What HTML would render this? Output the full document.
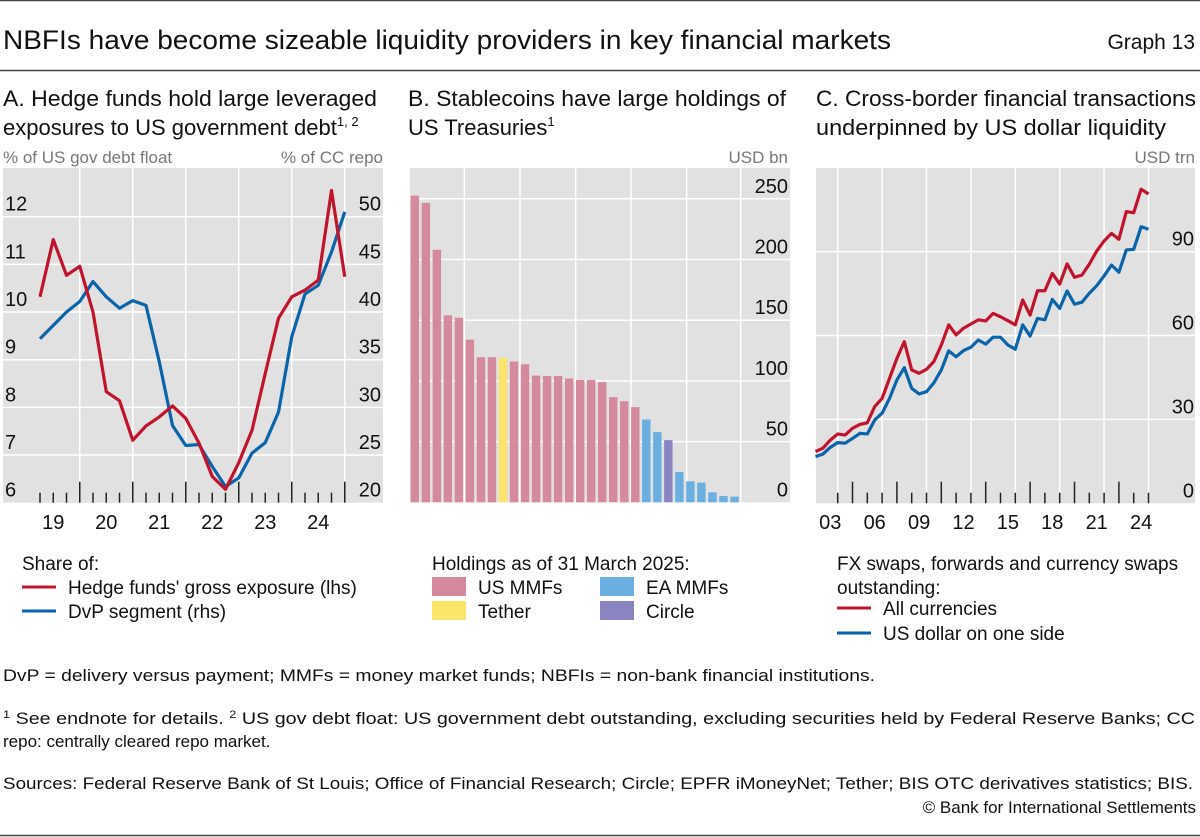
<!DOCTYPE html>
<html><head><meta charset="utf-8"><style>
html,body{margin:0;padding:0;background:#fff;}
svg{display:block;font-family:"Liberation Sans",sans-serif;}
</style></head><body>
<svg id="c" width="1200" height="837" xmlns="http://www.w3.org/2000/svg">
<line x1="0" y1="0.5" x2="1200" y2="0.5" stroke="#444" stroke-width="1.5"/>
<text x="3" y="49" font-size="27" fill="#111" textLength="888" lengthAdjust="spacingAndGlyphs">NBFIs have become sizeable liquidity providers in key financial markets</text>
<text x="1195" y="49" font-size="21" fill="#111" text-anchor="end">Graph 13</text>
<line x1="0" y1="70.5" x2="1200" y2="70.5" stroke="#444" stroke-width="1.5"/>

<g font-size="22" fill="#111">
<text x="3" y="106" textLength="374" lengthAdjust="spacingAndGlyphs">A. Hedge funds hold large leveraged</text>
<text x="3" y="135">exposures to US government debt<tspan font-size="13" dy="-9">1, 2</tspan></text>
<text x="408" y="106" textLength="378" lengthAdjust="spacingAndGlyphs">B. Stablecoins have large holdings of</text>
<text x="408" y="135">US Treasuries<tspan font-size="13" dy="-9">1</tspan></text>
<text x="816" y="106" textLength="380" lengthAdjust="spacingAndGlyphs">C. Cross-border financial transactions</text>
<text x="816" y="135" textLength="350" lengthAdjust="spacingAndGlyphs">underpinned by US dollar liquidity</text>
</g>
<g font-size="17" fill="#777">
<text x="3" y="163">% of US gov debt float</text>
<text x="383" y="163" text-anchor="end">% of CC repo</text>
<text x="788" y="163" text-anchor="end">USD bn</text>
<text x="1195" y="163" text-anchor="end">USD trn</text>
</g>
<g id="pa"></g><g id="pb"></g><g id="pc"></g>

<!-- legends -->
<g font-size="19" fill="#111">
<text x="22" y="570">Share of:</text>
<line x1="22" y1="587" x2="56" y2="587" stroke="#c0142c" stroke-width="3"/>
<text x="68" y="594">Hedge funds' gross exposure (lhs)</text>
<line x1="22" y1="611" x2="56" y2="611" stroke="#0a64aa" stroke-width="3"/>
<text x="68" y="618">DvP segment (rhs)</text>

<text x="432" y="570">Holdings as of 31 March 2025:</text>
<rect x="432" y="577" width="34" height="19" fill="#d48a9c"/>
<text x="478" y="594">US MMFs</text>
<rect x="600" y="577" width="34" height="19" fill="#6aafe0"/>
<text x="646" y="594">EA MMFs</text>
<rect x="432" y="601" width="34" height="19" fill="#fbe46a"/>
<text x="478" y="618">Tether</text>
<rect x="600" y="601" width="34" height="19" fill="#8a84c0"/>
<text x="646" y="618">Circle</text>

<text x="837" y="570">FX swaps, forwards and currency swaps</text>
<text x="837" y="594">outstanding:</text>
<line x1="837" y1="608" x2="871" y2="608" stroke="#c0142c" stroke-width="3"/>
<text x="883" y="615">All currencies</text>
<line x1="837" y1="633" x2="871" y2="633" stroke="#0a64aa" stroke-width="3"/>
<text x="883" y="640">US dollar on one side</text>
</g>

<g font-size="17" fill="#111">
<text x="3" y="681" textLength="872" lengthAdjust="spacingAndGlyphs">DvP = delivery versus payment; MMFs = money market funds; NBFIs = non-bank financial institutions.</text>
<text x="3" y="724" textLength="1192" lengthAdjust="spacingAndGlyphs"><tspan font-size="11" dy="-6">1</tspan><tspan dy="6">  See endnote for details.    </tspan><tspan font-size="11" dy="-6">2</tspan><tspan dy="6">  US gov debt float: US government debt outstanding, excluding securities held by Federal Reserve Banks; CC</tspan></text>
<text x="3" y="747">repo: centrally cleared repo market.</text>
<text x="3" y="789" textLength="1190" lengthAdjust="spacingAndGlyphs">Sources: Federal Reserve Bank of St Louis; Office of Financial Research; Circle; EPFR iMoneyNet; Tether; BIS OTC derivatives statistics; BIS.</text>
<text x="1196" y="813" text-anchor="end">© Bank for International Settlements</text>
</g>
<line x1="0" y1="835.5" x2="1200" y2="835.5" stroke="#444" stroke-width="1.5"/>
</svg>
<script>
// Panel A data (quarterly, 2019Q1 .. 2024Q4)
const aHedge = [10.32,11.52,10.77,10.96,10.0,8.33,8.14,7.31,7.61,7.80,8.03,7.77,7.25,6.55,6.28,6.84,7.52,8.71,9.87,10.32,10.46,10.67,12.55,10.74];
const aDvp = [37.2,38.6,40.0,41.1,43.2,41.6,40.4,41.2,40.7,34.8,28.1,26.0,26.1,23.8,21.7,22.6,25.2,26.3,29.5,37.4,41.9,42.8,46.3,50.5];
const aYears = ["19","20","21","22","23","24"];
const aLeftTicks = [6,7,8,9,10,11,12];
const aRightTicks = [20,25,30,35,40,45,50];
// Panel B data (USD bn)
const bValues = [252.6,246.6,208,154,152,134,119.5,119.5,119,116,113.7,104.4,104,104,102,100.8,100.8,99,86.6,83.3,78.4,68.2,57.8,51.2,25,17.3,16.2,8.2,5.2,4.7];
const bTypes = ["us","us","us","us","us","us","us","us","tether","us","us","us","us","us","us","us","us","us","us","us","us","ea","ea","circle","ea","ea","ea","ea","ea","ea"];
const bTicks = [0,50,100,150,200,250];
// Panel C data (semi-annual, H2 2002 .. H2 2024, USD trn)
const cAll = [18.5,19.7,22.6,24.8,24.4,26.8,28.2,28.8,34.6,37.5,44.7,51.8,57.8,47.7,46.5,47.9,50.7,56.6,63.8,60.2,62.6,64.1,65.6,65.2,67.9,66.7,65.3,63.8,72.7,67.3,76.0,76.0,82.2,78.4,85.6,80.8,81.6,85.5,90.2,93.8,96.5,94.4,104.3,103.9,112.3,110.6];
const cUsd = [16.7,17.6,20.0,21.7,21.5,23.2,25.0,24.8,29.8,32.2,37.5,44.1,48.5,41.1,39.1,39.9,43.1,47.7,54.5,52.4,54.6,55.8,58.4,56.9,59.4,59.4,56.6,55.1,63.8,59.8,66.1,65.6,72.9,69.7,75.9,71.2,71.9,75.1,77.8,81.3,85.2,82.6,90.6,90.8,98.9,98.0];
const cYears = ["03","06","09","12","15","18","21","24"];
const cTicks = [0,30,60,90];

const NS="http://www.w3.org/2000/svg";
function mk(parent,tag,attrs){const e=document.createElementNS(NS,tag);for(const k in attrs)e.setAttribute(k,attrs[k]);parent.appendChild(e);return e;}
const RED="#c0142c", BLUE="#0a64aa", GRID="#fff", BG="#e1e1e1";

// ---------- Panel A ----------
(function(){
  const g=document.getElementById('pa');
  const L=3,R=383,T=168,B=502.7;
  const bg=mk(g,'rect',{x:L,y:T,width:R-L,height:B-T,fill:BG});
  
  
  const yl=v=>B-(v-6)/6*(B-216.7);
  const yr=v=>B-(v-20)/30*(B-216.7);
  const yearStart=26.75, yw=53;
  const xq=i=>40+i*13.25;
  for(let k=1;k<=6;k++){const x=yearStart+k*yw;const l=mk(g,'line',{x1:x,y1:T,x2:x,y2:B,stroke:GRID,'stroke-width':1.5});
    
    }
  aLeftTicks.forEach((v,i)=>{const y=yl(v);
    if(i>0){const l=mk(g,'line',{x1:L,y1:y,x2:R,y2:y,stroke:GRID,'stroke-width':1.5});
      
      }
    const t=mk(g,'text',{x:5,y:y-6,'font-size':20,fill:'#111'});t.textContent=v;
    
    });
  aRightTicks.forEach(v=>{const y=yr(v);const t=mk(g,'text',{x:381,y:y-6,'font-size':20,fill:'#111','text-anchor':'end'});t.textContent=v;
    
    });
  for(let i=0;i<24;i++){const x=xq(i);const major=(i%4===3);
    const l=mk(g,'line',{x1:x,y1:major?481.7:492.7,x2:x,y2:B,stroke:'#222','stroke-width':1.5});
    
    }
  aYears.forEach((y,i)=>{const t=mk(g,'text',{x:yearStart+yw*(i+0.5),y:529,'font-size':20,fill:'#111','text-anchor':'middle'});t.textContent=y;
    
    });
  const p1=mk(g,'polyline',{points:aDvp.map((v,i)=>xq(i)+','+yr(v)).join(' '),fill:'none',stroke:BLUE,'stroke-width':3.2,'stroke-linejoin':'round'});
  
  
  const p2=mk(g,'polyline',{points:aHedge.map((v,i)=>xq(i)+','+yl(v)).join(' '),fill:'none',stroke:RED,'stroke-width':3.2,'stroke-linejoin':'round'});
  
  
})();

// ---------- Panel B ----------
(function(){
  const g=document.getElementById('pb');
  const L=410,R=790,T=168,B=502.3;
  const bg=mk(g,'rect',{x:L,y:T,width:R-L,height:B-T,fill:BG});
  
  
  const y=v=>B-v/50*60.7;
  [464.3,520,575.7,631,686.7,740.7].forEach(x=>{const l=mk(g,'line',{x1:x,y1:T,x2:x,y2:B,stroke:GRID,'stroke-width':1.5});
    
    });
  bTicks.forEach(v=>{const yy=y(v);
    if(v>0){const l=mk(g,'line',{x1:L,y1:yy,x2:R,y2:yy,stroke:GRID,'stroke-width':1.5});
      
      }
    const t=mk(g,'text',{x:788,y:yy-6,'font-size':20,fill:'#111','text-anchor':'end'});t.textContent=v;
    
    });
  const col={us:"#d48a9c",tether:"#fbe46a",ea:"#6aafe0",circle:"#8a84c0"};
  const step=(740.7-410)/bValues.length;
  bValues.forEach((v,i)=>{const x=410+i*step+0.6;
    const r=mk(g,'rect',{x:x,y:y(v),width:step-2.6,height:B-y(v),fill:col[bTypes[i]]});
    
    });
})();

// ---------- Panel C ----------
(function(){
  const g=document.getElementById('pc');
  const L=816,R=1195,T=168,B=503.3;
  const bg=mk(g,'rect',{x:L,y:T,width:R-L,height:B-T,fill:BG});
  
  
  const yw=14.8, y2003=822.9;
  const xt=t=>y2003+(t-2003)*yw;
  const y=v=>B-v/30*83.9;
  cYears.forEach((lab,i)=>{const x=xt(2004+3*i);
    const l=mk(g,'line',{x1:x,y1:T,x2:x,y2:B,stroke:GRID,'stroke-width':1.5});
    
    
    const t=mk(g,'text',{x:xt(2003+3*i)+yw/2,y:529,'font-size':20,fill:'#111','text-anchor':'middle'});t.textContent=lab;
    
    });
  cTicks.forEach(v=>{const yy=y(v);
    if(v>0){const l=mk(g,'line',{x1:L,y1:yy,x2:R,y2:yy,stroke:GRID,'stroke-width':1.5});
      
      }
    const t=mk(g,'text',{x:1194,y:yy-6,'font-size':20,fill:'#111','text-anchor':'end'});t.textContent=v;
    
    });
  for(let yr=2003;yr<=2024;yr++){const x=xt(yr+1);const major=((yr+1)%3===1);
    const l=mk(g,'line',{x1:x,y1:major?481.7:492.7,x2:x,y2:B,stroke:'#222','stroke-width':1.5});
    
    }
  const xp=i=>xt(2002.5+i*0.5);
  const p1=mk(g,'polyline',{points:cUsd.map((v,i)=>xp(i)+','+y(v)).join(' '),fill:'none',stroke:BLUE,'stroke-width':3.2,'stroke-linejoin':'round'});
  
  
  const p2=mk(g,'polyline',{points:cAll.map((v,i)=>xp(i)+','+y(v)).join(' '),fill:'none',stroke:RED,'stroke-width':3.2,'stroke-linejoin':'round'});
  
  
})();
</script>
</body></html>
